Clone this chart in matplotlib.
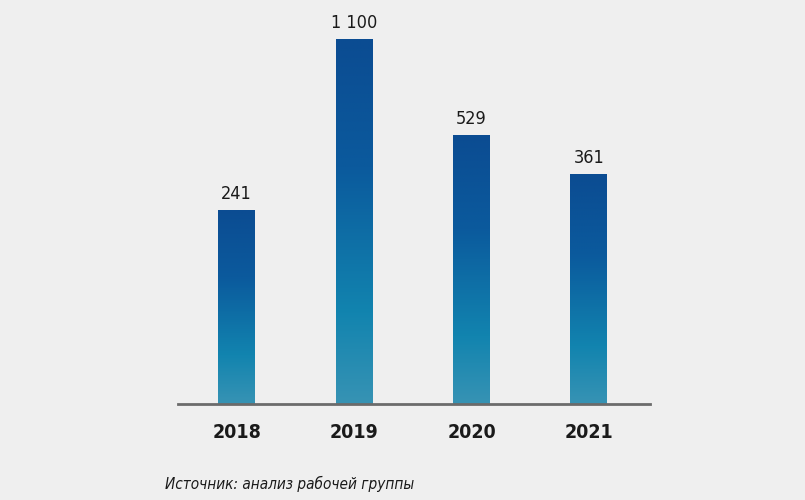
import matplotlib
matplotlib.use('Agg')
import matplotlib.pyplot as plt
import numpy as np
from matplotlib.colors import LinearSegmentedColormap
from matplotlib.transforms import Bbox, TransformedBbox, BboxTransformTo

years = ['2018', '2019', '2020', '2021']
values = [241, 1100, 529, 361]
value_labels = ['241', '1 100', '529', '361']
source = 'Источник: анализ рабочей группы'

# bar heights in the original are not linear in the values; a power scale fits them
power = 0.415

plt.rcParams['font.family'] = ['DejaVu Sans']
plt.rcParams['font.stretch'] = 'condensed'

bg = '#efefef'
fig = plt.figure(figsize=(8.05, 5.0), dpi=100, facecolor=bg)
ax = fig.add_axes([0.2211, 0.192, 0.5864, 0.808])
ax.set_facecolor(bg)

ax.set_yscale('function', functions=(lambda v: np.sign(v) * np.abs(v) ** power,
                                     lambda v: np.sign(v) * np.abs(v) ** (1 / power)))

x = np.arange(len(years))
bars = ax.bar(x, values, width=0.315, color='none', edgecolor='none')
ax.set_xlim(-0.5, 3.52)
ax.set_ylim(0, 1405)

cmap = LinearSegmentedColormap.from_list(
    'grad', [(0.0, '#0b4c92'), (0.35, '#0b5a9d'), (0.75, '#1284af'), (1.0, '#3793b4')])
grad = np.linspace(0, 1, 256).reshape(-1, 1)

for b in bars:
    bb = TransformedBbox(Bbox.from_extents(b.get_x(), 0, b.get_x() + b.get_width(), b.get_height()),
                         ax.transData)
    im = ax.imshow(grad, cmap=cmap, aspect='auto', extent=(0, 1, 0, 1),
                   transform=BboxTransformTo(bb), interpolation='bilinear', zorder=2)
    im.set_clip_path(b)

for xi, v, lab in zip(x, values, value_labels):
    ax.annotate(lab, (xi, v), xytext=(0, 5), textcoords='offset points',
                ha='center', va='bottom', fontsize=13, color='#1a1a1a')

for s in ['top', 'right', 'left']:
    ax.spines[s].set_visible(False)
ax.spines['bottom'].set_color('#6b6b6b')
ax.spines['bottom'].set_linewidth(2)
ax.spines['bottom'].set_zorder(3)
ax.set_yticks([])
ax.set_xticks(x)
ax.set_xticklabels(years, fontsize=14, fontweight='bold', color='#1a1a1a')
ax.tick_params(axis='x', length=0, pad=14)

fig.text(165 / 805, 1 - 484 / 500, source, ha='left', va='center',
         fontsize=11, style='italic', color='#1a1a1a')

fig.savefig('out.png', dpi=100, facecolor=bg)
